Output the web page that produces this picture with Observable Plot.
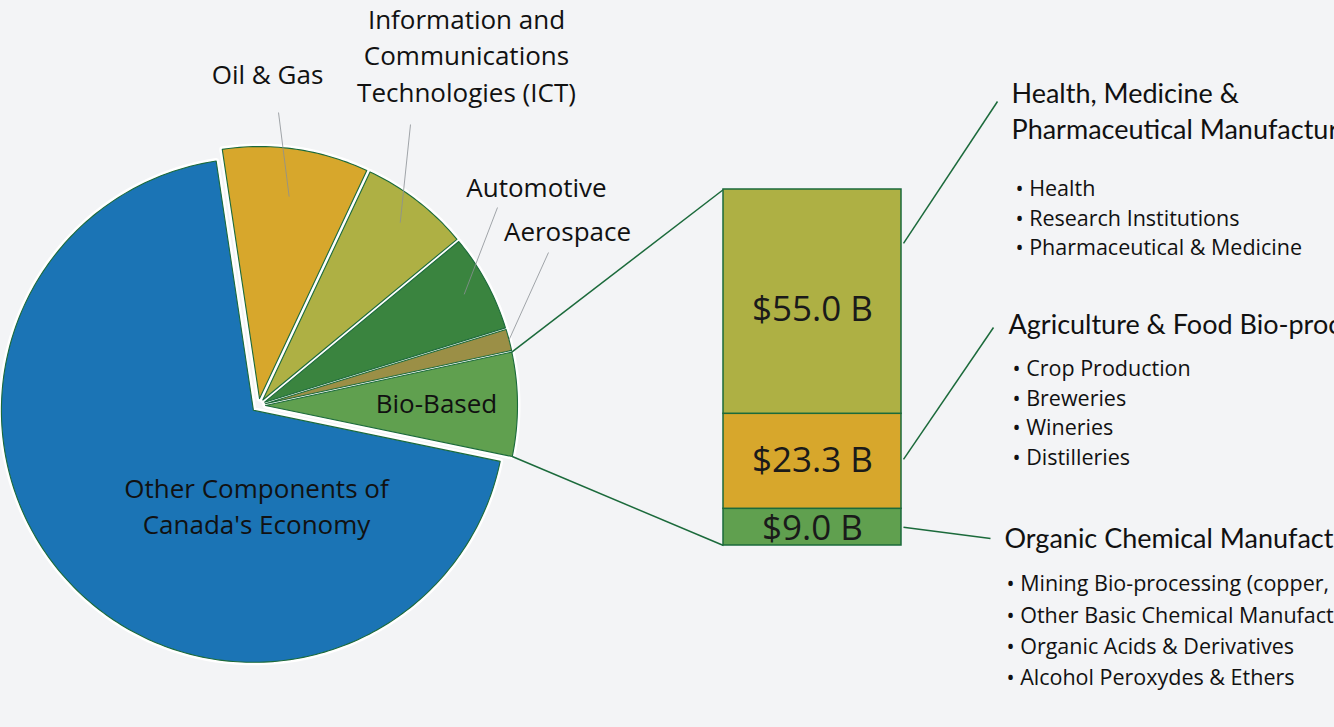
<!DOCTYPE html>
<html><head><meta charset="utf-8">
<script src="https://cdn.jsdelivr.net/npm/d3@7"></script>
<script src="https://cdn.jsdelivr.net/npm/@observablehq/plot@0.6"></script>
<style>
html,body{margin:0;padding:0;background:#f3f4f6;overflow:hidden;}
#chart{width:1334px;height:727px;}
</style></head><body><div id="chart"></div>
<script>
// ---------------- DATA ($ billions, estimated) ----------------
const sectors = ["Oil & Gas", "Information and\nCommunications\nTechnologies (ICT)", "Automotive", "Aerospace", "Bio-Based", "Other Components of\nCanada's Economy"];
const sectorValues = [123, 92, 82, 18, 87.3, 912];
const sectorColors = ["#d7a72c", "#aeb044", "#3a843f", "#9b8f46", "#60a04f", "#1b74b5"];

const bioParts = ["Organic Chemical Manufacturing", "Agriculture & Food Bio-processing", "Health, Medicine &\nPharmaceutical Manufacturing"];
const bioValues = [9.0, 23.3, 55.0];
const bioValueLabels = ["$9.0 B", "$23.3 B", "$55.0 B"];
const bioColors = ["#60a04f", "#d7a72c", "#aeb044"];
const bioItems = [
  ["Mining Bio-processing (copper, gold)", "Other Basic Chemical Manufacturing", "Organic Acids & Derivatives", "Alcohol Peroxydes & Ethers"],
  ["Crop Production", "Breweries", "Wineries", "Distilleries"],
  ["Health", "Research Institutions", "Pharmaceutical & Medicine"]
];

// ---------------- LAYOUT ----------------
const W = 1334, H = 727;
const pie = {cx: 258, cy: 405, r: 252, explode: 7, start: -8.5 * Math.PI / 180};
const bar = {x1: 723, x2: 901, bottom: 545, top: 189};
const barLabelDy = [2, 0, 8];
const sectorLabelPos = [
  {x: 267, y: 72, lh: 1.4}, {x: 466, y: 53, lh: 1.45}, {x: 536, y: 185, lh: 1.4},
  {x: 567, y: 229, lh: 1.4}, {x: 436, y: 401, lh: 1.4}, {x: 256, y: 504, lh: 1.36}
];
const leaders = [ // [slice index, radius fraction of inner end, outer end]
  {i: 0, rf: 0.81, x: 278, y: 112}, {i: 1, rf: 0.89, x: 410, y: 124},
  {i: 2, rf: 0.90, x: 497, y: 207}, {i: 3, rf: 1.0, x: 548, y: 252}
];
const rightCol = [
  {hx: 1004, hy: 536, ix: 1006, iy: 584, step: 31.3, frac: 0.5, ex: 990, ey: 538},
  {hx: 1008, hy: 322, ix: 1012, iy: 369, step: 29.4, frac: 0.52, ex: 993, ey: 327},
  {hx: 1011, hy: 109, ix: 1015, iy: 189, step: 29.5, frac: 0.76, ex: 997, ey: 101}
];
const DARK = "#1b6a3b";

// ---------------- GEOMETRY FROM DATA ----------------
const arcs = d3.pie().sort(null).startAngle(pie.start).endAngle(pie.start + 2 * Math.PI)(sectorValues);
const slicePts = [];
const sliceInfo = arcs.map((a, i) => {
  const mid = (a.startAngle + a.endAngle) / 2;
  const ox = pie.cx + pie.explode * Math.sin(mid), oy = pie.cy - pie.explode * Math.cos(mid);
  slicePts.push({k: i, x: ox, y: oy});
  const n = Math.max(2, Math.ceil((a.endAngle - a.startAngle) / (Math.PI / 180)));
  for (let j = 0; j <= n; j++) {
    const t = a.startAngle + (a.endAngle - a.startAngle) * j / n;
    slicePts.push({k: i, x: ox + pie.r * Math.sin(t), y: oy - pie.r * Math.cos(t)});
  }
  return {i, mid, ox, oy, a0: a.startAngle, a1: a.endAngle};
});

const total = d3.sum(bioValues);
const k = (bar.bottom - bar.top) / total;
const cum = [0, ...d3.cumsum(bioValues)];
const segs = bioValues.map((v, i) => ({
  i, v, y1: bar.bottom - cum[i] * k, y2: bar.bottom - cum[i + 1] * k
}));

const bio = sliceInfo[4];
const connectors = [
  {x1: bio.ox + pie.r * Math.sin(bio.a0), y1: bio.oy - pie.r * Math.cos(bio.a0), x2: bar.x1, y2: segs[2].y2},
  {x1: bio.ox + pie.r * Math.sin(bio.a1), y1: bio.oy - pie.r * Math.cos(bio.a1), x2: bar.x1, y2: segs[0].y1}
];
const leaderLines = leaders.map(l => {
  const s = sliceInfo[l.i];
  return {x1: s.ox + pie.r * l.rf * Math.sin(s.mid), y1: s.oy - pie.r * l.rf * Math.cos(s.mid), x2: l.x, y2: l.y};
});
const callouts = rightCol.map((c, i) => ({
  x1: bar.x2 + 2, y1: segs[i].y1 + (segs[i].y2 - segs[i].y1) * c.frac, x2: c.ex, y2: c.ey
}));
const itemRows = [];
bioItems.forEach((items, g) => items.forEach((t, j) =>
  itemRows.push({t: "\u2022 " + t, x: rightCol[g].ix, y: rightCol[g].iy + j * rightCol[g].step})));

const sansLbl = "'Open Sans', 'Liberation Sans', sans-serif";
const headFont = "Lato, 'Noto Sans', sans-serif";

const chart = Plot.plot({
  width: W, height: H, margin: 0,
  x: {domain: [0, W], range: [0, W], axis: null},
  y: {domain: [0, H], range: [0, H], axis: null},
  color: {type: "identity"},
  style: {background: "#f3f4f6", overflow: "hidden"},
  marks: [
    // white halo beneath the slices (fills the explosion gaps)
    Plot.line(slicePts, {x: "x", y: "y", z: "k", curve: "linear-closed", fill: "white", stroke: "white", strokeWidth: 6, strokeLinejoin: "round"}),
    Plot.line(slicePts, {x: "x", y: "y", z: "k", curve: "linear-closed", fill: d => sectorColors[d.k], stroke: DARK, strokeWidth: 1.1, strokeLinejoin: "round"}),
    // pie label leaders
    Plot.link(leaderLines, {x1: "x1", y1: "y1", x2: "x2", y2: "y2", stroke: "#8a8f94", strokeWidth: 0.8}),
    // connectors pie -> bar
    Plot.link(connectors, {x1: "x1", y1: "y1", x2: "x2", y2: "y2", stroke: DARK, strokeWidth: 1.5}),
    // stacked bar
    Plot.rect(segs, {x1: bar.x1, x2: bar.x2, y1: "y1", y2: "y2", fill: d => bioColors[d.i], stroke: DARK, strokeWidth: 1.5}),
    Plot.text(segs, {x: (bar.x1 + bar.x2) / 2, y: d => (d.y1 + d.y2) / 2 + barLabelDy[d.i], text: d => bioValueLabels[d.i], fontSize: 35, fontFamily: sansLbl, fill: "#1a1a1a"}),
    // callouts to right headings
    Plot.link(callouts, {x1: "x1", y1: "y1", x2: "x2", y2: "y2", stroke: DARK, strokeWidth: 1.5}),
    // sector labels
    Plot.text(sectors.map((s, i) => ({s, i})), {
      x: d => sectorLabelPos[d.i].x, y: d => sectorLabelPos[d.i].y, text: "s",
      lineHeight: 1.4, fontSize: 26, fontFamily: sansLbl, fill: "#111"
    }),
    // headings
    Plot.text(bioParts.map((s, i) => ({s, i})), {
      x: d => rightCol[d.i].hx, y: d => rightCol[d.i].hy, text: "s", textAnchor: "start",
      lineHeight: 1.33, fontSize: 27, fontFamily: headFont, fill: "#111"
    }),
    // bullet items
    Plot.text(itemRows, {x: "x", y: "y", text: "t", textAnchor: "start", fontSize: 21.5, fontFamily: sansLbl, fill: "#111"})
  ]
});
document.getElementById("chart").appendChild(chart);
</script>
</body></html>
